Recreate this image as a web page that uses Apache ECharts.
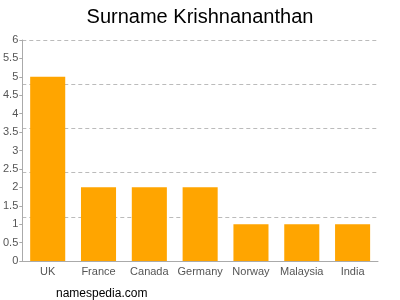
<!DOCTYPE html>
<html><head><meta charset="utf-8">
<script src="https://cdn.jsdelivr.net/npm/echarts@6/dist/echarts.min.js"></script>
<style>html,body{margin:0;padding:0;background:#fff}#c{width:400px;height:300px}</style>
</head><body><div id="c"></div>
<script>
const categories = ['UK','France','Canada','Germany','Norway','Malaysia','India'];
const values = [5,2,2,2,1,1,1];
const yTicks = [0,0.5,1,1.5,2,2.5,3,3.5,4,4.5,5,5.5,6];
const titleText = 'Surname Krishnananthan';
const watermark = 'namespedia.com';

const chart = echarts.init(document.getElementById('c'), null, {renderer:'canvas'});
chart.setOption({
  animation:false,
  title:[{text:titleText,left:'center',top:2,textStyle:{fontFamily:'Liberation Sans, Arial, sans-serif',fontSize:20,fontWeight:'normal',color:'#000'}},
         {text:watermark,left:51,top:283,textStyle:{fontFamily:'Liberation Sans, Arial, sans-serif',fontSize:12,fontWeight:'normal',color:'#000'}}],
  grid:{left:21,right:22,top:40,bottom:39,containLabel:false},
  xAxis:{type:'category',data:categories,
    axisLine:{lineStyle:{color:'#aaa'}},axisTick:{show:false},
    axisLabel:{interval:0,color:'#555',fontSize:11,fontFamily:'Liberation Sans, Arial, sans-serif',margin:5}},
  yAxis:[{type:'value',min:0,max:6,interval:0.5,
    axisLine:{show:true,lineStyle:{color:'#aaa'}},axisTick:{show:true,length:3,lineStyle:{color:'#aaa'}},
    splitLine:{show:false},
    axisLabel:{color:'#555',fontSize:11,fontFamily:'Liberation Sans, Arial, sans-serif',margin:4,
      formatter:v=>yTicks.includes(v)?String(v):''}},
    {type:'value',min:0,max:6,interval:1.2,position:'left',
    axisLine:{show:false},axisTick:{show:false},axisLabel:{show:false},
    splitLine:{show:true,lineStyle:{color:'#bbb',type:[4,3],width:1}}}],
  series:[{type:'bar',data:values,barWidth:'69%',itemStyle:{color:'#FFA500'},yAxisIndex:0}]
});
</script></body></html>
